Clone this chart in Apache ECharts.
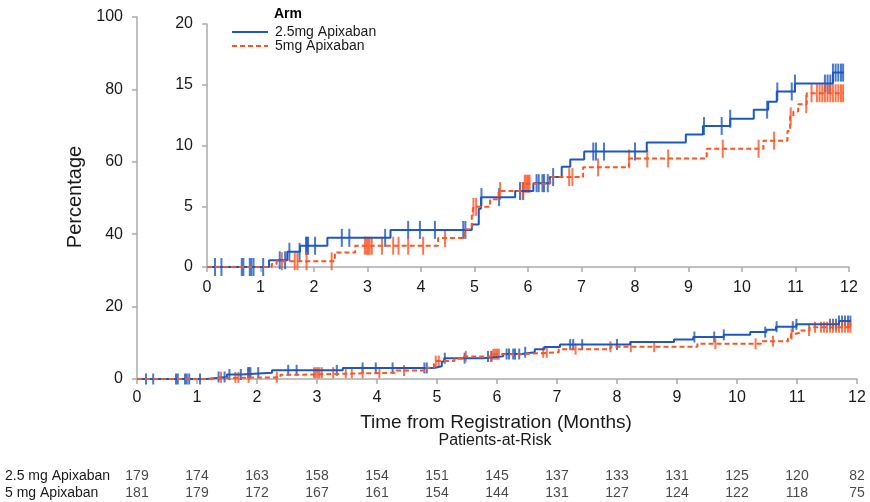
<!DOCTYPE html>
<html>
<head>
<meta charset="utf-8">
<script src="https://cdn.jsdelivr.net/npm/echarts@6/dist/echarts.min.js"></script>
<style>
  html, body { margin: 0; padding: 0; background: #fff; }
  #chart { width: 870px; height: 502px; }
</style>
</head>
<body>
<div id="chart"></div>
<script>
// arms
var armA = '2.5mg Apixaban';
var armB = '5mg Apixaban';

// Kaplan-Meier steps [month, cumulative %]
var eventsA = [
  [0, 0], [1.16, 0.55], [1.5, 1.25], [1.74, 1.75], [2.25, 2.4], [3.43, 3.05],
  [4.95, 3.5], [5.08, 4.8], [5.12, 5.75], [5.76, 6.25], [6.1, 6.9], [6.41, 7.4],
  [6.63, 8.25], [6.79, 8.85], [7.05, 9.5], [8.22, 10.25], [8.95, 10.9], [9.27, 11.6],
  [9.78, 12.2], [10.22, 12.95], [10.49, 13.6], [10.65, 14.45], [10.99, 15.1],
  [11.7, 16.0], [11.9, 16.0]
];
var eventsB = [
  [0, 0], [1.21, 0.25], [1.3, 0.47], [2.39, 1.2], [2.77, 1.75], [4.32, 2.38],
  [4.82, 3.1], [4.95, 4.2], [4.98, 4.95], [5.29, 5.57], [5.45, 6.25], [5.91, 6.85],
  [6.41, 7.4], [7.03, 8.2], [7.89, 8.93], [9.34, 9.73], [10.4, 10.4], [10.85, 11.2],
  [10.9, 12.4], [10.96, 12.8], [11.05, 13.4], [11.21, 14.3], [11.9, 14.3]
];

// censoring times (months)
var censorA = [
  0.15, 0.27, 0.65, 0.68, 0.8, 0.83, 0.87, 1.05, 1.36, 1.46, 1.54, 1.73, 1.85, 1.87,
  1.89, 2.02, 2.52, 2.66, 3.33, 3.76, 3.98, 4.26, 4.79, 4.83, 5.13, 5.46, 5.85, 5.91,
  6.16, 6.2, 6.27, 6.3, 6.37, 6.47, 7.22, 7.27, 7.42, 8.0, 9.29, 9.62, 9.78, 10.47,
  10.66, 10.93, 10.99, 11.55, 11.6, 11.65, 11.7, 11.75, 11.8, 11.85, 11.89
];
var censorB = [
  1.4, 1.64, 1.69, 1.86, 2.33, 2.95, 2.98, 3.01, 3.04, 3.08, 3.27, 3.48, 3.58, 3.76,
  4.04, 4.45, 4.98, 5.03, 5.48, 5.9, 5.94, 5.97, 6.0, 6.03, 6.77, 6.83, 7.31, 7.89,
  8.23, 8.62, 9.64, 10.31, 10.6, 10.91, 11.2, 11.3, 11.4, 11.45, 11.5, 11.55, 11.6,
  11.65, 11.7, 11.75, 11.8, 11.85, 11.89
];

// patients at risk
var riskMonths = [0, 1, 2, 3, 4, 5, 6, 7, 8, 9, 10, 11, 12];
var riskRows = ['2.5 mg Apixaban', '5 mg Apixaban'];
var riskA = [179, 174, 163, 158, 154, 151, 145, 137, 133, 131, 125, 120, 82];
var riskB = [181, 179, 172, 167, 161, 154, 144, 131, 127, 124, 122, 118, 75];

var blue = '#1d58c2';
var red = '#ff5320';
var txt = '#1a1a1a';
var axisGray = '#ababab';

function stepAt(events, t) {
  var v = 0;
  for (var i = 0; i < events.length; i++) {
    if (events[i][0] <= t) v = events[i][1];
  }
  return v;
}

function censorPoints(times, events) {
  return times.map(function (t) { return [t, stepAt(events, t)]; });
}

var riskData = [];
riskMonths.forEach(function (m, i) {
  riskData.push([m, riskRows[0], riskA[i]]);
  riskData.push([m, riskRows[1], riskB[i]]);
});

function valueX(idx, margin) {
  return {
    type: 'value', gridIndex: idx, min: 0, max: 12, interval: 1,
    axisLine: { show: true, lineStyle: { color: axisGray, width: 1.5 } },
    axisTick: { show: true, length: 5, lineStyle: { color: axisGray, width: 1.5 } },
    axisLabel: { fontSize: 16, color: txt, margin: margin, fontFamily: 'Liberation Sans' },
    splitLine: { show: false }
  };
}

function valueY(idx, max, interval) {
  return {
    type: 'value', gridIndex: idx, min: 0, max: max, interval: interval,
    axisLine: { show: true, lineStyle: { color: axisGray, width: 1.5 } },
    axisTick: { show: true, length: 5, lineStyle: { color: axisGray, width: 1.5 } },
    axisLabel: { fontSize: 16, color: txt, margin: 14, fontFamily: 'Liberation Sans' },
    splitLine: { show: false }
  };
}

function stepLine(name, data, color, dashed, ax) {
  return {
    name: name, type: 'line', step: 'end', xAxisIndex: ax, yAxisIndex: ax,
    data: data, symbol: 'none', showSymbol: false, silent: true, animation: false,
    lineStyle: { color: color, width: 2, type: dashed ? [5, 3] : 'solid' },
    itemStyle: { color: color }
  };
}

function censorMarks(name, data, color, ax, h) {
  return {
    name: name, type: 'scatter', xAxisIndex: ax, yAxisIndex: ax,
    data: data, symbol: 'rect', symbolSize: [2, h], silent: true, animation: false,
    itemStyle: { color: color }
  };
}

var myChart = echarts.init(document.getElementById('chart'));

var option = {
  backgroundColor: '#fff',
  animation: false,
  textStyle: { fontFamily: 'Liberation Sans' },
  grid: [
    { left: 137, right: 13, top: 17, bottom: 123 },
    { left: 207, right: 21, top: 24, bottom: 235 },
    { left: 137, right: 13, top: 468, height: 34 }
  ],
  legend: {
    data: [armA, armB],
    orient: 'vertical', left: 231, top: 25, padding: 0,
    itemWidth: 36, itemHeight: 12, itemGap: 0,
    itemStyle: { opacity: 0 },
    textStyle: { fontSize: 14, color: txt, lineHeight: 12, padding: [0, 0, 0, 2] },
    selectedMode: false
  },
  xAxis: [
    valueX(0, 11),
    valueX(1, 13),
    { type: 'value', gridIndex: 2, min: 0, max: 12, show: false }
  ],
  yAxis: [
    valueY(0, 100, 20),
    valueY(1, 20, 5),
    {
      type: 'category', gridIndex: 2, data: riskRows, inverse: true,
      axisLine: { show: false }, axisTick: { show: false },
      axisLabel: { interval: 0, align: 'left', margin: 132, fontSize: 14, color: txt }
    }
  ],
  series: [
    stepLine(armA, eventsA, blue, false, 0),
    stepLine(armB, eventsB, red, true, 0),
    censorMarks('censor A', censorPoints(censorA, eventsA), blue, 0, 11),
    censorMarks('censor B', censorPoints(censorB, eventsB), red, 0, 11),
    stepLine(armA, eventsA, blue, false, 1),
    stepLine(armB, eventsB, red, true, 1),
    censorMarks('censor A inset', censorPoints(censorA, eventsA), blue, 1, 18),
    censorMarks('censor B inset', censorPoints(censorB, eventsB), red, 1, 18),
    {
      name: 'risk', type: 'scatter', xAxisIndex: 2, yAxisIndex: 2,
      data: riskData, symbolSize: 0, silent: true,
      label: {
        show: true, position: 'inside', fontSize: 14, color: txt,
        formatter: function (p) { return p.value[2]; }
      }
    }
  ],
  graphic: [
    { type: 'text', left: 274, top: 7, style: { text: 'Arm', font: 'bold 14px Liberation Sans', fill: '#000' } },
    {
      type: 'text', x: 75, y: 197, rotation: Math.PI / 2,
      style: { text: 'Percentage', font: '20px Liberation Sans', fill: txt, textAlign: 'center', textVerticalAlign: 'middle' }
    },
    {
      type: 'text', x: 496, y: 423,
      style: { text: 'Time from Registration (Months)', font: '19px Liberation Sans', fill: txt, textAlign: 'center', textVerticalAlign: 'middle' }
    },
    {
      type: 'text', x: 495, y: 441,
      style: { text: 'Patients-at-Risk', font: '16px Liberation Sans', fill: txt, textAlign: 'center', textVerticalAlign: 'middle' }
    }
  ]
};

myChart.setOption(option);
</script>
</body>
</html>
